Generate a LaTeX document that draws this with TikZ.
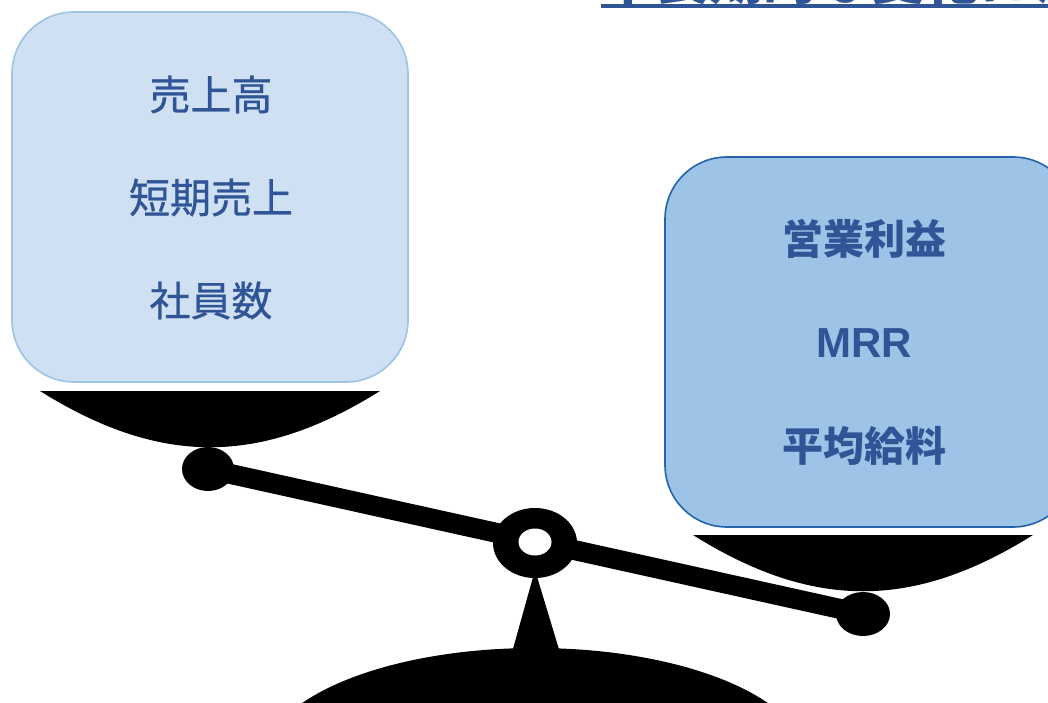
\documentclass[tikz,border=0pt]{standalone}
\usepackage{fontspec}
\newfontfamily\jp{Noto Sans CJK JP}
\newfontfamily\jpsemi{Noto Sans CJK JP}[FakeBold=0.7]
\newfontfamily\lat{Liberation Sans}
\definecolor{ink}{HTML}{2F5597}
\definecolor{paleFill}{HTML}{CFE0F2}
\definecolor{paleLine}{HTML}{9DC3E6}
\definecolor{deepFill}{HTML}{9DC3E6}
\definecolor{deepLine}{HTML}{2363AB}
\tikzset{
  card/.style={rounded corners=62pt, line width=1.6pt},
  lefttxt/.style={anchor=base, text=ink, font=\jpsemi\fontsize{41}{41}\selectfont},
  righttxt/.style={anchor=base, text=ink, font=\jp\bfseries\fontsize{41}{41}\selectfont},
  metal/.style={fill=black},
}
\begin{document}
\begin{tikzpicture}[x=1pt,y=-1pt]
\useasboundingbox (0,0) rectangle (1048,703);
\clip (0,0) rectangle (1048,703);
\fill[white] (0,0) rectangle (1048,703);

% title, mostly above the page edge
\node[anchor=base west, text=ink, inner sep=0pt,
      font=\jp\bfseries\fontsize{54}{54}\selectfont] (title) at (601,0) {中長期的な変化に注目};
\fill[ink] (601,3.6) rectangle (1048,8.2);

% stand and base
\fill[metal] (535,570) -- (561,656) -- (511,656) -- cycle;
\fill[metal] (535,762) ellipse [x radius=272pt, y radius=114pt];

% beam ends and pivot
\coordinate (lknob) at (208,469);
\coordinate (rknob) at (863,614);
\coordinate (pivot) at (535,543);
\draw[line width=20pt] (lknob) -- (rknob);

% pans
\fill[metal] (40,391) .. controls (160,466) and (260,466) .. (380,391) -- cycle;
\fill[metal] (693,535) .. controls (813,610) and (913,610) .. (1033,535) -- cycle;

\fill[metal] (lknob) ellipse [x radius=26pt, y radius=22pt];
\fill[metal] (rknob) ellipse [x radius=27pt, y radius=22pt];
\fill[metal] (pivot) ellipse [x radius=42pt, y radius=35pt];
\fill[white] (535,542) ellipse [x radius=16.5pt, y radius=13.5pt];

% left card
\draw[card, fill=paleFill, draw=paleLine] (12,12) rectangle (408,382);
\node[lefttxt] (l1) at (211,110) {売上高};
\node[lefttxt] (l2) at (211,213) {短期売上};
\node[lefttxt] (l3) at (211,316) {社員数};

% right card
\draw[card, fill=deepFill, draw=deepLine] (665,157) rectangle (1075,527);
\node[righttxt] (r1) at (864,254) {営業利益};
\node[anchor=base, text=ink, font=\lat\bfseries\fontsize{42}{42}\selectfont] (r2) at (864,357) {MRR};
\node[righttxt] (r3) at (864,461) {平均給料};
\end{tikzpicture}
\end{document}
